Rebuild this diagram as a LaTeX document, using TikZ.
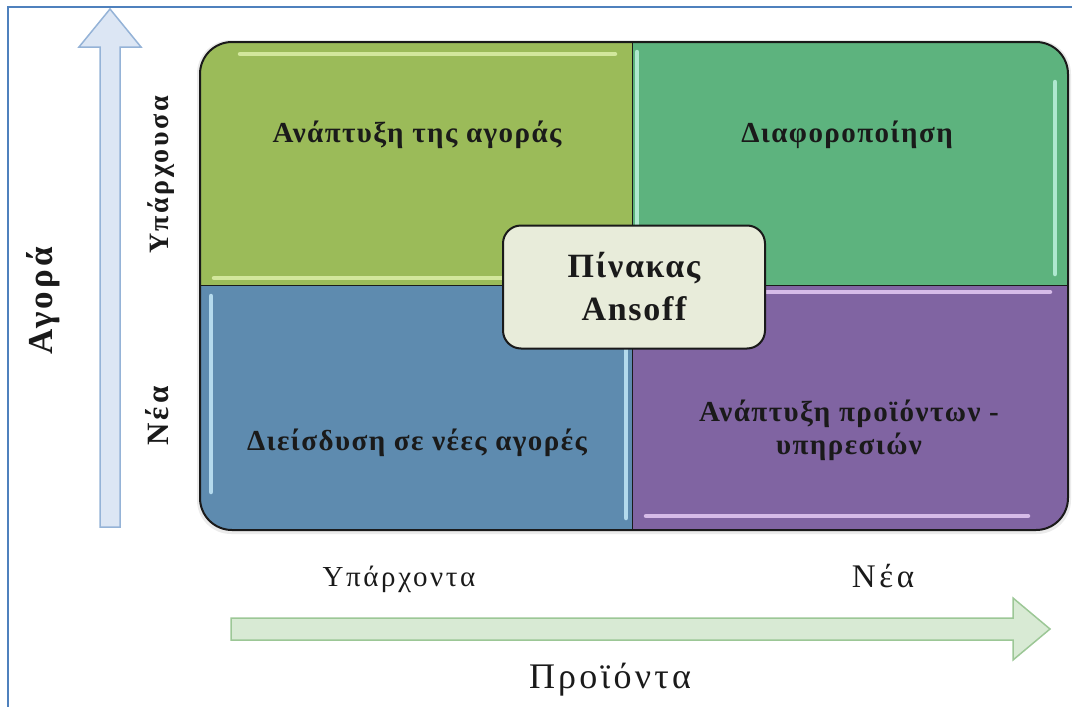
\documentclass[tikz,border=0pt]{standalone}
\usepackage{fontspec}
\setmainfont{Liberation Serif}
\newfontfamily\wideA[LetterSpace=9]{Liberation Serif}
\newfontfamily\wideB[LetterSpace=5]{Liberation Serif}
\newfontfamily\wideC[LetterSpace=11]{Liberation Serif}
\definecolor{greenQ}{HTML}{9BBB59}
\definecolor{tealQ}{HTML}{5DB37E}
\definecolor{blueQ}{HTML}{5E8BAF}
\definecolor{purpleQ}{HTML}{8064A2}
\definecolor{greenHL}{HTML}{DCEFA8}
\definecolor{tealHL}{HTML}{BDF2DE}
\definecolor{blueHL}{HTML}{C4E8F8}
\definecolor{purpleHL}{HTML}{E6CBF5}
\definecolor{centerFill}{HTML}{E8ECDA}
\definecolor{vArrowFill}{HTML}{DCE6F4}
\definecolor{vArrowLine}{HTML}{95B3D7}
\definecolor{hArrowFill}{HTML}{D8EAD4}
\definecolor{hArrowLine}{HTML}{9CC796}
\definecolor{frameBlue}{HTML}{4F81BD}
\definecolor{ink}{HTML}{1A1A1A}
\begin{document}
\begin{tikzpicture}[x=1pt,y=-1pt,
  quadtext/.style={anchor=base,inner sep=0pt,text=ink,font=\wideB\bfseries\fontsize{29}{33}\selectfont},
  axistext/.style={anchor=base,inner sep=0pt,text=ink},
  sidetext/.style={anchor=base,inner sep=0pt,text=ink,rotate=90,font=\wideA\bfseries\fontsize{28}{32}\selectfont},
  hilite/.style={line width=4.5pt,line cap=round,opacity=0.85},
  centerbox/.style={draw=ink,line width=2pt,fill=centerFill,rounded corners=18pt,
    minimum width=262pt,minimum height=123pt,inner sep=0pt,align=center,text=ink,
    font=\wideB\bfseries\fontsize{34}{43}\selectfont},
  blockarrow/.style={line width=1.5pt,line join=miter}
]
\useasboundingbox (0,0) rectangle (1072,707);
% frame
\draw[frameBlue,line width=1.5pt] (8,707) -- (8,7) -- (1072,7);
% vertical arrow
\draw[blockarrow,draw=vArrowLine,fill=vArrowFill]
  (100,527) -- (100,47) -- (79,47) -- (110,9) -- (141,47) -- (120,47) -- (120,527) -- cycle;
% horizontal arrow
\draw[blockarrow,draw=hArrowLine,fill=hArrowFill]
  (231,618) -- (1013,618) -- (1013,598) -- (1050,629) -- (1013,660) -- (1013,640) -- (231,640) -- cycle;
% shadow
\fill[black!8,rounded corners=34pt] (197,40) rectangle (1071,534);
% quadrants
\begin{scope}
  \clip[rounded corners=32pt] (200,42) rectangle (1068,530);
  \fill[greenQ] (200,42) rectangle (632,285);
  \fill[tealQ] (632,42) rectangle (1068,285);
  \fill[blueQ] (200,285) rectangle (632,530);
  \fill[purpleQ] (632,285) rectangle (1068,530);
  \draw[hilite,greenHL] (240,54) -- (615,54);
  \draw[hilite,greenHL] (214,278) -- (612,278);
  \draw[hilite,tealHL] (637,52) -- (637,272);
  \draw[hilite,tealHL] (1055,82) -- (1055,274);
  \draw[hilite,blueHL] (211,296) -- (211,492);
  \draw[hilite,blueHL] (626,300) -- (626,518);
  \draw[hilite,purpleHL] (642,292) -- (1050,292);
  \draw[hilite,purpleHL] (646,516) -- (1028,516);
\end{scope}
\draw[ink,line width=1pt] (632,42) -- (632,530);
\draw[ink,line width=1pt] (200,285) -- (1068,285);
\draw[ink,line width=2pt,rounded corners=32pt] (200,42) rectangle (1068,530);
% quadrant texts
\node[quadtext] (q1) at (417,142) {Ανάπτυξη της αγοράς};
\node[quadtext] (q2) at (847,142) {Διαφοροποίηση};
\node[quadtext] (q3) at (417,450) {Διείσδυση σε νέες αγορές};
\node[quadtext,anchor=center,align=center] (q4) at (849,430) {Ανάπτυξη προϊόντων -\\υπηρεσιών};
% center box
\node[centerbox] (ansoff) at (634,287) {Πίνακας\\Ansoff};
% axis labels
\node[axistext,font=\wideA\fontsize{29}{32}\selectfont] (prodOld) at (399,586) {Υπάρχοντα};
\node[axistext,font=\wideC\fontsize{33}{36}\selectfont] (prodNew) at (883,587) {Νέα};
\node[axistext,font=\wideA\fontsize{36}{40}\selectfont] (prodAxis) at (610,688) {Προϊόντα};
\node[sidetext,font=\wideA\bfseries\fontsize{35}{38}\selectfont] (mktAxis) at (52,301) {Αγορά};
\node[sidetext] (mktOld) at (168,175) {Υπάρχουσα};
\node[sidetext,font=\wideC\bfseries\fontsize{31}{34}\selectfont] (mktNew) at (168,416) {Νέα};
\end{tikzpicture}
\end{document}
